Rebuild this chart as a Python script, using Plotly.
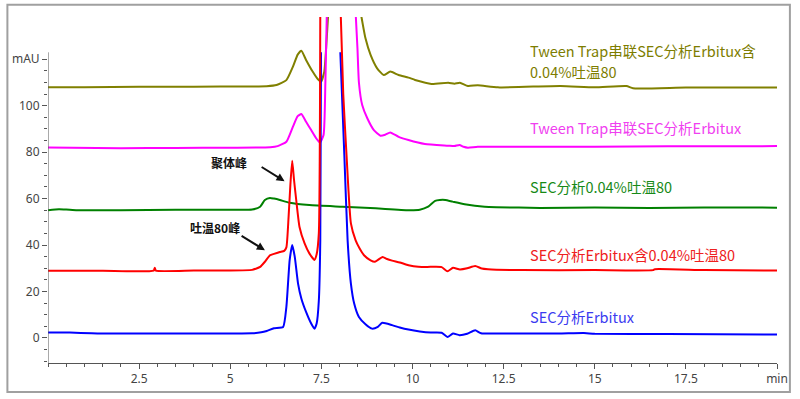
import plotly.graph_objects as go

# ---------------- data (time in min, signal in mAU) ----------------
blue_t = [0, 0.6, 1.2, 1.5, 3.0, 4.5, 5.6, 5.85, 6.0, 6.2, 6.45, 6.54, 6.63, 6.70, 6.77,
          6.86, 6.95, 7.08, 7.22, 7.31, 7.37, 7.43, 7.47, 7.49, 7.75, 8.02, 8.13, 8.22, 8.31, 8.40,
          8.53, 8.71, 8.89, 9.05, 9.17, 9.44, 9.65, 9.89, 10.2, 10.5, 10.8, 10.96, 11.11, 11.29, 11.5,
          11.72, 11.88, 12.5, 14, 14.7, 15, 17, 20]
blue_v = [2.3, 2.3, 2.0, 1.9, 1.9, 1.9, 2.0, 2.4, 3.0, 4.2, 4.7, 13.4, 33.5, 40, 34.9,
          23.4, 17, 11.2, 6.2, 4.0, 6.2, 16, 42, 123, None, 123, 78.7, 42, 23.4, 14.8,
          9, 5.9, 4.0, 4.8, 6.5, 5.5, 4.5, 3.6, 2.8, 2.3, 2.2, 0.4, 1.9, 1.2, 1.8,
          3.3, 2.0, 1.9, 1.9, 2.1, 1.8, 1.7, 1.5]

red_t = [0, 1.5, 2.9, 2.93, 2.96, 4.0, 5.0, 5.6, 5.72, 5.82, 5.95, 6.09, 6.2, 6.36, 6.48,
         6.54, 6.6, 6.65, 6.70, 6.75, 6.81, 6.9, 7.04, 7.17, 7.31, 7.37, 7.43, 7.47, 7.75, 8.03,
         8.1, 8.19, 8.31, 8.44, 8.55, 8.67, 8.85, 8.97, 9.18, 9.3, 9.44, 9.65, 9.89, 10.16, 10.5,
         10.8, 10.96, 11.11, 11.3, 11.5, 11.72, 11.9, 12.07, 13, 15, 16.6, 16.65, 18, 20]
red_v = [28.9, 28.9, 29.0, 30.2, 29.0, 29.0, 29.0, 29.3, 29.9, 30.6, 32.8, 35.6, 36.2, 37.0, 37.5,
         39, 52, 66, 76.3, 68, 59.4, 47.8, 40.7, 36.4, 33.6, 36, 45, 140, None, 140,
         105, 78.7, 49.3, 42, 38.5, 35.6, 33.4, 32.8, 34.9, 34.0, 33.3, 32.5, 31.3, 30.6, 30.6,
         30.5, 28.7, 30.2, 29.5, 30.0, 31.0, 29.9, 29.6, 29.2, 29.2, 29.2, 29.6, 29.2, 29.0]

green_t = [0, 0.3, 0.5, 0.8, 2.0, 3.5, 5.0, 5.6, 5.82, 5.95, 6.09, 6.2, 6.36, 6.63, 7.17,
           8.08, 8.99, 9.89, 10.2, 10.43, 10.62, 10.75, 10.9, 11.1, 11.43, 11.98, 12.3, 13.5, 15, 16.5,
           18, 20]
green_v = [55.0, 55.4, 55.3, 55.0, 55.0, 55.2, 55.2, 55.3, 56.5, 59.4, 60.3, 60.0, 59.4, 58.2, 57.2,
           56.5, 55.8, 55.0, 55.2, 56.5, 59.0, 59.4, 59.4, 58.7, 57.6, 56.5, 56.3, 56.0, 56.2, 56.0,
           56.2, 56.1]

magenta_t = [0, 2.0, 3.5, 5.0, 6.1, 6.3, 6.54, 6.72, 6.85, 6.95, 7.08, 7.22, 7.36, 7.46, 7.56,
             7.61, 7.65, 8.05, 8.44, 8.49, 8.53, 8.62, 8.76, 8.94, 9.12, 9.25, 9.39, 9.62, 9.89, 10.34,
             10.98, 11.15, 11.29, 11.4, 11.52, 11.79, 13, 15, 17, 20]
magenta_v = [82.0, 81.7, 81.8, 81.9, 82.1, 82.6, 84.5, 91, 95.5, 96.4, 93.1, 89.5, 85.9, 84.1, 87.4,
             110, 140, None, 140, 124.7, 110, 100.3, 94.6, 89.5, 87.1, 87.5, 88.5, 86.6, 85.2, 83.5,
             82.8, 82.6, 83.1, 82.3, 81.9, 82.3, 82.3, 82.3, 82.5, 82.6]

olive_t = [0, 1.0, 2.5, 4.0, 5.5, 6.0, 6.27, 6.54, 6.72, 6.85, 6.95, 7.08, 7.26, 7.40, 7.49,
           7.58, 7.63, 7.69, 8.1, 8.58, 8.71, 8.85, 9.03, 9.21, 9.39, 9.62, 9.89, 10.07, 10.52, 10.98,
           11.15, 11.3, 11.52, 11.79, 12.34, 14.06, 15.0, 15.87, 16.05, 17.5, 20]
olive_v = [107.9, 107.9, 108.2, 108.2, 108.3, 108.4, 108.9, 111, 116.8, 122, 123.7, 119.7, 114.7, 111.5, 110.3,
           114.7, 124.7, 140, None, 140, 129, 121.9, 116.1, 113.2, 114.7, 113.2, 112.1, 111.1, 109.4, 109.9,
           109.5, 109.9, 108.5, 108.8, 107.9, 108.5, 107.9, 108.5, 107.5, 107.8, 107.8]

label_texts = ["SEC分析Erbitux", "SEC分析Erbitux含0.04%吐温80", "SEC分析0.04%吐温80",
               "Tween Trap串联SEC分析Erbitux", "Tween Trap串联SEC分析Erbitux含", "0.04%吐温80"]
label_y = [9.4, 36.1, 65.0, 90.8, 123.8, 114.9]
label_series = [0, 1, 2, 3, 4, 4]
label_x = 13.2

y_tick_vals = [0, 20, 40, 60, 80, 100, 120]
y_tick_text = ["0", "20", "40", "60", "80", "100", "mAU"]
x_tick_vals = [2.5, 5, 7.5, 10, 12.5, 15, 17.5, 20]
x_tick_text = ["2.5", "5", "7.5", "10", "12.5", "15", "17.5", "min"]

for a, b in [(blue_t, blue_v), (red_t, red_v), (green_t, green_v), (magenta_t, magenta_v), (olive_t, olive_v)]:
    assert len(a) == len(b), (len(a), len(b))

line_colors = ["#0000ff", "#ff0000", "#008000", "#ff00ff", "#808000"]
text_colors = ["#3b3bf0", "#ee2020", "#178a17", "#f040f0", "#7d7d00"]

fig = go.Figure()
data = [(blue_t, blue_v), (red_t, red_v), (green_t, green_v), (magenta_t, magenta_v), (olive_t, olive_v)]
order = [4, 3, 2, 0, 1]
for i in order:
    t, v = data[i]
    fig.add_trace(go.Scatter(x=t, y=v, mode="lines", connectgaps=False,
                             line=dict(color=line_colors[i], width=2, shape="spline", smoothing=0.5),
                             showlegend=False, hoverinfo="skip"))

for txt, yy, si in zip(label_texts, label_y, label_series):
    fig.add_annotation(x=label_x, y=yy, xref="x", yref="y", text=txt, borderpad=0,
                       showarrow=False, xanchor="left", yanchor="middle", align="left",
                       font=dict(family="Noto Sans CJK SC", size=14.5, color=text_colors[si]))

# peak annotations
fig.add_annotation(x=4.97, y=75.7, text="<b>聚体峰</b>", showarrow=False,
                   font=dict(family="Noto Sans CJK SC", size=12, color="#111"))
fig.add_annotation(x=6.49, y=67.5, ax=5.82, ay=74.0, axref="x", ayref="y", text="",
                   showarrow=True, arrowhead=2, arrowsize=0.8, arrowwidth=2, arrowcolor="#111", standoff=0)
fig.add_annotation(x=4.57, y=47.7, text="<b>吐温80峰</b>", showarrow=False,
                   font=dict(family="Noto Sans CJK SC", size=12, color="#111"))
fig.add_annotation(x=5.95, y=37.8, ax=5.27, ay=44.3, axref="x", ayref="y", text="",
                   showarrow=True, arrowhead=2, arrowsize=0.8, arrowwidth=2, arrowcolor="#111", standoff=0)

# outer frame and y-axis line
fig.add_shape(type="rect", xref="paper", yref="paper", x0=-0.0557, x1=1.0177, y0=-0.0839, y1=1.0356,
              line=dict(color="#a0a0a0", width=2), fillcolor="rgba(0,0,0,0)", layer="below")
fig.add_shape(type="line", xref="x", yref="y", x0=0, x1=0, y0=-10.8, y1=123,
              line=dict(color="#555", width=1))

fig.update_layout(
    width=800, height=399,
    margin=dict(l=46, r=18, t=17, b=36),
    paper_bgcolor="white", plot_bgcolor="white",
    xaxis=dict(range=[0, 20], showgrid=False, zeroline=False, showline=True, linecolor="#555", linewidth=1,
               tickmode="array", tickvals=x_tick_vals, ticktext=x_tick_text,
               ticks="outside", ticklen=5, tickcolor="#555",
               tickfont=dict(family="Noto Sans", size=12, color="#444"),
               minor=dict(tickmode="linear", tick0=0, dtick=0.5, ticks="outside", ticklen=3, tickcolor="#555")),
    yaxis=dict(range=[-10.8, 138.2], showgrid=False, zeroline=False, showline=False,
               tickmode="array", tickvals=y_tick_vals, ticktext=y_tick_text,
               ticks="outside", ticklen=5, tickcolor="#555",
               tickfont=dict(family="Noto Sans", size=12, color="#444"),
               minor=dict(tickmode="array", tickvals=[v for v in range(-10, 120, 5) if v % 20 != 0],
                          ticks="outside", ticklen=3, tickcolor="#555")),
)

fig.write_html("out.html", config={"displayModeBar": False},
               post_script="document.body.style.margin='0';document.body.style.overflow='hidden';")
